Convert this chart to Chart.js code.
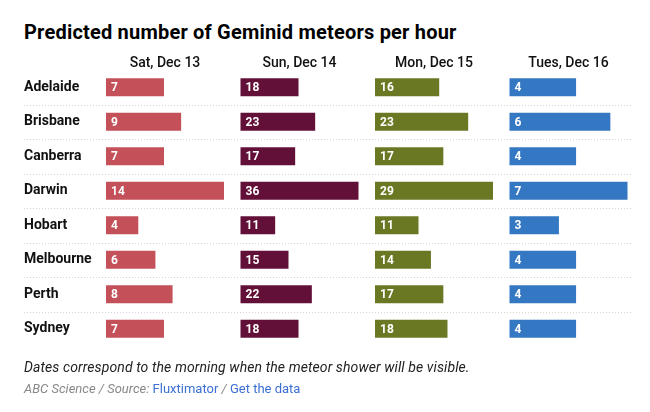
<!DOCTYPE html>
<html>
<head>
<meta charset="utf-8">
<script src="https://cdn.jsdelivr.net/npm/chart.js@4"></script>
<style>
  body { margin: 0; background: #fff; font-family: Roboto, sans-serif; }
  #wrap { position: relative; width: 650px; height: 412px; }
  #wrap canvas { position: absolute; left: 0; top: 0; }
  h1 { position: absolute; left: 24px; top: 20px; margin: 0; font-size: 20px; font-weight: 700; letter-spacing: 0.2px; color: #000; }
  .note { position: absolute; left: 24px; top: 359px; font-size: 14px; font-style: italic; color: #222; letter-spacing: 0.1px; }
  .src { position: absolute; left: 24px; top: 381px; font-size: 13px; color: #888; font-style: italic; }
  .src a { color: #3b6fd4; font-style: normal; text-decoration: none; }
</style>
</head>
<body>
<div id="wrap">
  <h1>Predicted number of Geminid meteors per hour</h1>
  <canvas id="c0" width="650" height="412"></canvas>
  <canvas id="c1" width="650" height="412"></canvas>
  <canvas id="c2" width="650" height="412"></canvas>
  <canvas id="c3" width="650" height="412"></canvas>
  <div class="note">Dates correspond to the morning when the meteor shower will be visible.</div>
  <div class="src">ABC Science / Source: <a>Fluxtimator</a> / <a>Get the data</a></div>
</div>
<script>
/* DATA */
const cities = ["Adelaide", "Brisbane", "Canberra", "Darwin", "Hobart", "Melbourne", "Perth", "Sydney"];
const days = ["Sat, Dec 13", "Sun, Dec 14", "Mon, Dec 15", "Tues, Dec 16"];
const sat = [7, 9, 7, 14, 4, 6, 8, 7];
const sun = [18, 23, 17, 36, 11, 15, 22, 18];
const mon = [16, 23, 17, 29, 11, 14, 17, 18];
const tues = [4, 6, 4, 7, 3, 4, 4, 4];
const series = [sat, sun, mon, tues];
const colors = ["#c4505a", "#621038", "#6b7823", "#3477c2"];

/* LAYOUT */
const colLeft = [105, 239.5, 374, 508.5];
const colWidth = 120;

Chart.defaults.font.family = "Roboto";
Chart.defaults.color = "#111";

/* value text inside each bar */
const barLabels = {
    id: "barLabels",
    afterDatasetsDraw(chart) {
        const ctx = chart.ctx;
        const meta = chart.getDatasetMeta(0);
        const data = chart.data.datasets[0].data;
        ctx.save();
        ctx.fillStyle = "#fff";
        ctx.font = "bold 12px Roboto";
        ctx.textBaseline = "middle";
        meta.data.forEach((bar, i) => {
            ctx.fillText(data[i], bar.base + 6, bar.y + 1);
        });
        ctx.restore();
    }
};

/* dotted row separators */
const separators = {
    id: "separators",
    beforeDatasetsDraw(chart) {
        const y = chart.scales.y;
        const ctx = chart.ctx;
        ctx.save();
        ctx.strokeStyle = "#d6d6d6";
        ctx.lineWidth = 1;
        ctx.setLineDash([1, 2]);
        for (let i = 0; i < cities.length - 1; i++) {
            const py = Math.round((y.getPixelForValue(i) + y.getPixelForValue(i + 1)) / 2) + 0.5;
            ctx.beginPath();
            ctx.moveTo(24, py);
            ctx.lineTo(632, py);
            ctx.stroke();
        }
        ctx.restore();
    }
};

series.forEach((values, k) => {
    const first = k === 0;
    const yAxis = {
        display: first,
        grid: { display: false, drawTicks: false },
        border: { display: false },
        ticks: {
            crossAlign: "far",
            padding: 0,
            font: { size: 14, weight: "bold" },
            color: "#111"
        }
    };
    if (first) yAxis.afterFit = scale => { scale.width = colLeft[0] - 24; };

    new Chart(document.getElementById("c" + k), {
        type: "bar",
        data: {
            labels: cities,
            datasets: [{
                data: values,
                backgroundColor: colors[k],
                borderColor: "rgba(255,255,255,0.6)",
                borderWidth: 1,
                borderSkipped: false,
                barPercentage: 0.58,
                categoryPercentage: 1
            }]
        },
        options: {
            indexAxis: "y",
            responsive: false,
            animation: false,
            events: [],
            layout: {
                padding: {
                    left: first ? 24 : colLeft[k],
                    right: 650 - colLeft[k] - colWidth,
                    top: 56,
                    bottom: 66
                }
            },
            scales: {
                x: {
                    position: "top",
                    min: 0,
                    max: Math.max(...values),
                    ticks: { display: false },
                    grid: { display: false, drawTicks: false },
                    border: { display: false },
                    title: {
                        display: true,
                        text: days[k],
                        font: { size: 14, weight: "500", lineHeight: 1 },
                        color: "#111",
                        padding: { top: 0, bottom: 0 }
                    }
                },
                y: yAxis
            },
            plugins: {
                legend: { display: false },
                tooltip: { enabled: false }
            }
        },
        plugins: first ? [separators, barLabels] : [barLabels]
    });
});
</script>
</body>
</html>
